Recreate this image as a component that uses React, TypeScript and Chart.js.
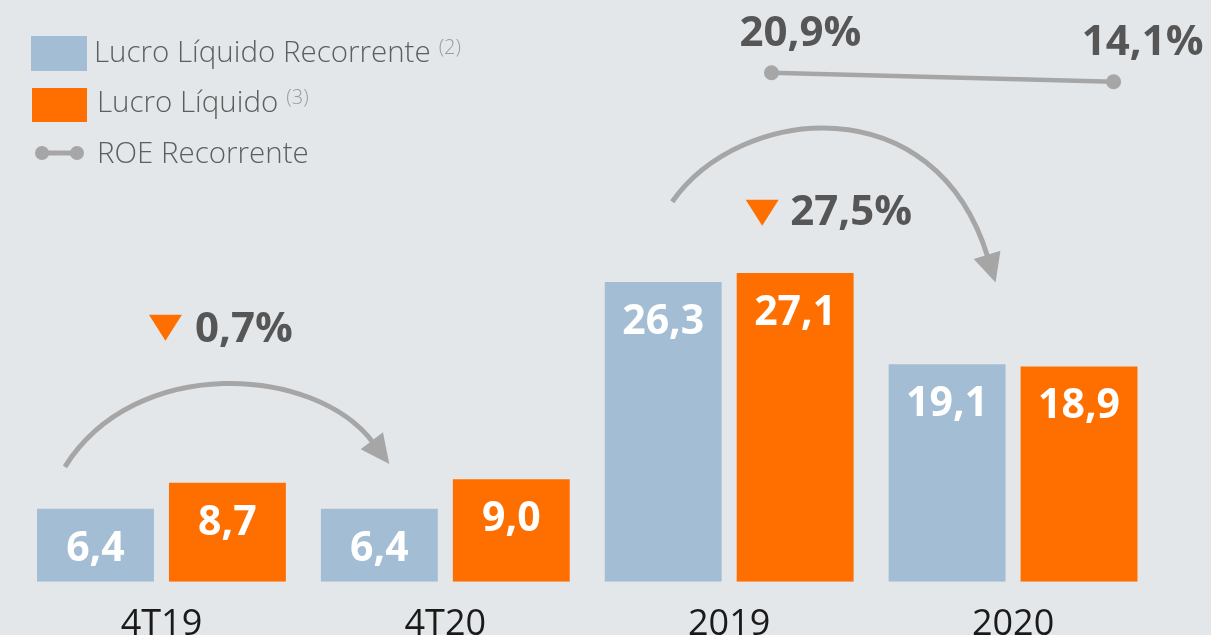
import React, { useEffect, useRef } from 'react';
import { Chart, registerables } from 'chart.js';

Chart.register(...registerables);

// ---- data ----
const categories = ['4T19', '4T20', '2019', '2020'];
const lucroLiquidoRecorrente = [6.4, 6.4, 26.3, 19.1];
const lucroLiquido = [8.7, 9.0, 27.1, 18.9];
const roeCategories = ['2019', '2020'];
const roeRecorrente = [20.9, 14.1];
const variationFrom = ['4T19', '2019'];
const variationTo = ['4T20', '2020'];
const variationLabels = ['0,7%', '27,5%'];
const seriesNames = ['Lucro Líquido Recorrente', 'Lucro Líquido', 'ROE Recorrente'];
const footnotes = ['(2)', '(3)', ''];

// ---- styles ----
const BG = '#e4e7ea';
const BLUE = '#a3bed4';
const ORANGE = '#ff6f00';
const GRAY = '#a6a6a6';
const DARK = '#565656';
const FONT = '"Open Sans", "Noto Sans", sans-serif';

const fmt = (v: number) => v.toFixed(1).replace('.', ',');

const overlayPlugin = {
  id: 'overlay',
  afterDatasetsDraw(chart: any) {
    const { ctx, chartArea, scales } = chart;
    const xs = scales.x;
    const rx = scales.x2;
    const ry = scales.y2;
    const B = chartArea.bottom;
    ctx.save();

    // ROE Recorrente line (hidden x2 / y2 scales)
    const pts = roeCategories.map((cat, i) => ({
      x: rx.getPixelForValue(categories.indexOf(cat)),
      y: ry.getPixelForValue(roeRecorrente[i]),
    }));
    ctx.strokeStyle = GRAY;
    ctx.lineWidth = 4.5;
    ctx.beginPath();
    pts.forEach((p, i) => (i ? ctx.lineTo(p.x, p.y) : ctx.moveTo(p.x, p.y)));
    ctx.stroke();
    ctx.fillStyle = GRAY;
    pts.forEach((p) => {
      ctx.beginPath();
      ctx.arc(p.x, p.y, 7.5, 0, Math.PI * 2);
      ctx.fill();
    });
    ctx.fillStyle = DARK;
    ctx.font = `bold 42px ${FONT}`;
    ctx.textAlign = 'center';
    ctx.textBaseline = 'alphabetic';
    pts.forEach((p, i) => ctx.fillText(fmt(roeRecorrente[i]) + '%', p.x + 29, p.y - 27));

    // bar value labels
    ctx.fillStyle = '#ffffff';
    ctx.font = `bold 41px ${FONT}`;
    [0, 1].forEach((di) => {
      const meta = chart.getDatasetMeta(di);
      meta.data.forEach((bar: any, i: number) => {
        const v = chart.data.datasets[di].data[i] as number;
        ctx.fillText(fmt(v), bar.x, bar.y + 52);
      });
    });

    // variation arrows
    const c = (label: string) => xs.getPixelForValue(categories.indexOf(label));
    const arrows = variationFrom.map((f, i) => {
      const a = c(f);
      const b = c(variationTo[i]);
      if (i === 0) {
        return {
          p0: [a - 96.5, B - 115], c1: [a - 26.5, B - 227], c2: [b - 131, B - 217], p3: [b - 73.5, B - 141],
          tri: [a + 4, B - 267], text: [a + 33.5, B - 240],
        };
      }
      return {
        p0: [a - 57, B - 380], c1: [a + 11, B - 477], c2: [b - 78, B - 497], p3: [b - 26, B - 327],
        tri: [a + 33, B - 382], text: [a + 61, B - 357],
      };
    });

    arrows.forEach((ar, i) => {
      const { p0, c1, c2, p3, tri, text } = ar;
      const dx = p3[0] - c2[0];
      const dy = p3[1] - c2[1];
      const len = Math.hypot(dx, dy);
      const ux = dx / len;
      const uy = dy / len;
      ctx.strokeStyle = GRAY;
      ctx.lineWidth = 5;
      ctx.lineCap = 'butt';
      ctx.beginPath();
      ctx.moveTo(p0[0], p0[1]);
      ctx.bezierCurveTo(c1[0], c1[1], c2[0], c2[1], p3[0] + ux * 2, p3[1] + uy * 2);
      ctx.stroke();
      ctx.fillStyle = GRAY;
      ctx.beginPath();
      ctx.moveTo(p3[0] + ux * 29, p3[1] + uy * 29);
      ctx.lineTo(p3[0] - uy * 14, p3[1] + ux * 14);
      ctx.lineTo(p3[0] + uy * 14, p3[1] - ux * 14);
      ctx.closePath();
      ctx.fill();

      ctx.fillStyle = ORANGE;
      ctx.beginPath();
      ctx.moveTo(tri[0] - 16.5, tri[1]);
      ctx.lineTo(tri[0] + 16.5, tri[1]);
      ctx.lineTo(tri[0], tri[1] + 26);
      ctx.closePath();
      ctx.fill();

      ctx.fillStyle = DARK;
      ctx.font = `bold 42px ${FONT}`;
      ctx.textAlign = 'left';
      ctx.fillText(variationLabels[i], text[0], text[1]);
    });

    // legend
    const drawLegendText = (label: string, note: string, x: number, y: number) => {
      ctx.fillStyle = '#5e5e5e';
      ctx.font = `300 29.5px ${FONT}`;
      ctx.textAlign = 'left';
      ctx.fillText(label, x, y);
      if (note) {
        const w = ctx.measureText(label).width;
        ctx.fillStyle = '#9a9a9a';
        ctx.font = `300 20px ${FONT}`;
        ctx.fillText(note, x + w + 8, y - 8);
      }
    };
    ctx.fillStyle = BLUE;
    ctx.fillRect(31, 36, 56, 35);
    drawLegendText(seriesNames[0], footnotes[0], 94, 62);
    ctx.fillStyle = ORANGE;
    ctx.fillRect(32, 88, 55, 34);
    drawLegendText(seriesNames[1], footnotes[1], 97, 112);
    ctx.strokeStyle = GRAY;
    ctx.lineWidth = 5;
    ctx.beginPath();
    ctx.moveTo(42, 153);
    ctx.lineTo(77, 153);
    ctx.stroke();
    ctx.fillStyle = GRAY;
    [42, 77].forEach((px) => {
      ctx.beginPath();
      ctx.arc(px, 153, 7, 0, Math.PI * 2);
      ctx.fill();
    });
    drawLegendText(seriesNames[2], footnotes[2], 97, 163);

    ctx.restore();
  },
};

export default function App() {
  const ref = useRef<HTMLCanvasElement | null>(null);

  useEffect(() => {
    if (!ref.current) return;
    const chart = new Chart(ref.current, {
      type: 'bar',
      data: {
        labels: categories,
        datasets: [
          {
            label: seriesNames[0],
            data: lucroLiquidoRecorrente,
            backgroundColor: BLUE,
            categoryPercentage: 0.9296,
            barPercentage: 0.886,
          },
          {
            label: seriesNames[1],
            data: lucroLiquido,
            backgroundColor: ORANGE,
            categoryPercentage: 0.9296,
            barPercentage: 0.886,
          },
        ],
      },
      options: {
        responsive: false,
        animation: false,
        layout: { padding: { left: 19.5, right: 56, top: 12, bottom: 0 } },
        plugins: { legend: { display: false }, tooltip: { enabled: false } },
        scales: {
          x: {
            type: 'category',
            grid: { display: false, drawTicks: false },
            border: { display: false },
            ticks: { font: { family: 'Open Sans', size: 36 }, color: '#1a1a1a', padding: 21 },
          },
          x2: { type: 'linear', axis: 'x', display: false, offset: false, min: -0.198, max: 3.121 },
          y: { display: false, min: 0, max: 50 },
          y2: { type: 'linear', axis: 'y', display: false, min: -363.9, max: 66.8 },
        },
      } as any,
      plugins: [overlayPlugin],
    });
    return () => chart.destroy();
  }, []);

  return (
    <div
      style={{
        position: 'fixed',
        left: 0,
        top: 0,
        width: 1211,
        height: 635,
        overflow: 'hidden',
        background: BG,
      }}
    >
      <canvas ref={ref} width={1211} height={667} style={{ display: 'block', width: 1211, height: 667 }} />
    </div>
  );
}
